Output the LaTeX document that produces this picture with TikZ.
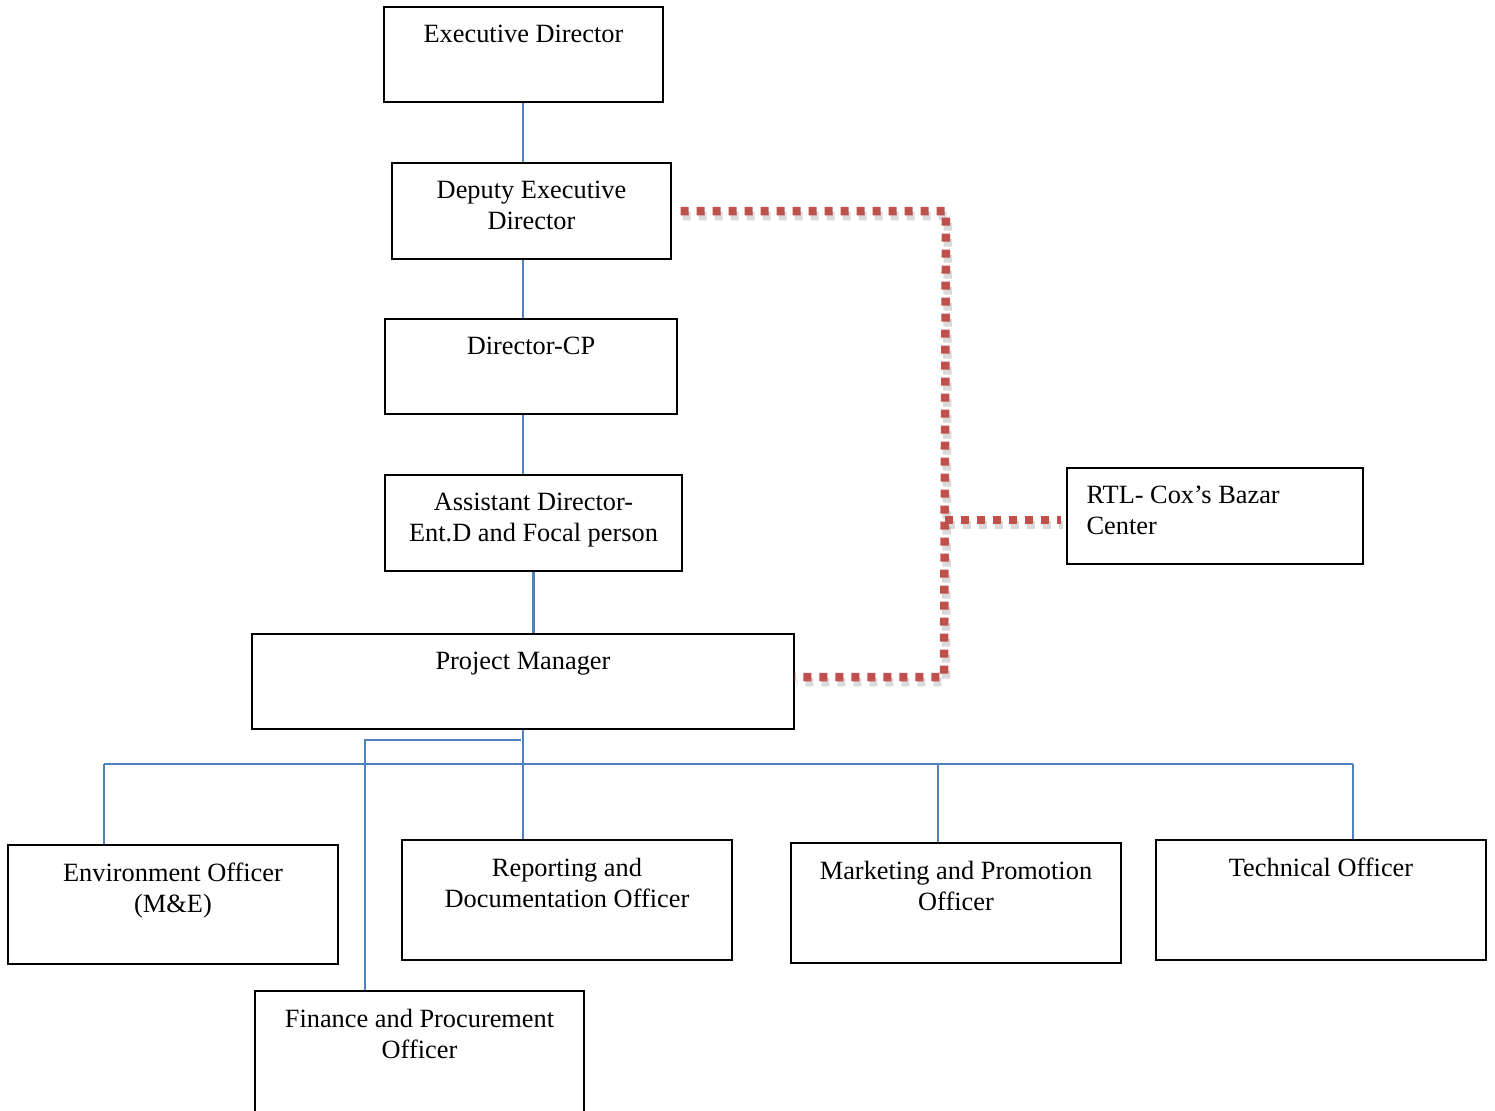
\documentclass[tikz,border=0pt]{standalone}
\usepackage{fontspec}
\setmainfont{Liberation Serif}
\usetikzlibrary{fit}
\definecolor{lineblue}{RGB}{79,129,189}
\definecolor{dotred}{RGB}{192,80,77}
\tikzset{
  box/.style={draw, line width=0.8pt, inner sep=0pt},
  lbl/.style={anchor=north, align=center, inner sep=0pt, yshift=-10.5pt,
    font=\fontsize{15}{17.6}\selectfont},
  lblleft/.style={lbl, anchor=north west, align=left, xshift=20*0.02cm},
  link/.style={draw=lineblue, line width=1.2pt},
  dotlink/.style={draw=dotred, line width=0.17cm, dash pattern=on 0.16cm off 0.16cm},
  dotshade/.style={dotlink, draw=gray, opacity=0.3,
    transform canvas={shift={(0.04cm,-0.1cm)}}}
}
\begin{document}
\begin{tikzpicture}[x=0.02cm,y=-0.02cm]
  \useasboundingbox (0,0) rectangle (1495,1110);
  \clip (0,0) rectangle (1495,1110);
  % boxes
  \node[box, fit={(384,7) (663,102)}, label={[lbl]north:{Executive Director}}] (ed) {};
  \node[box, fit={(392,163) (671,259)}, label={[lbl]north:{Deputy Executive\\Director}}] (dep) {};
  \node[box, fit={(385,319) (677,414)}, label={[lbl]north:{Director-CP}}] (dcp) {};
  \node[box, fit={(385,475) (682,571)}, label={[lbl]north:{Assistant Director-\\Ent.D and Focal person}}] (ad) {};
  \node[box, fit={(252,634) (794,729)}, label={[lbl]north:{Project Manager}}] (pm) {};
  \node[box, fit={(1067,468) (1363,564)}, label={[lblleft]north west:{RTL- Cox's Bazar\\Center}}] (rtl) {};
  \node[box, fit={(8,845) (338,964)}, label={[lbl]north:{Environment Officer\\(M\&E)}}] (env) {};
  \node[box, fit={(402,840) (732,960)}, label={[lbl]north:{Reporting and\\Documentation Officer}}] (rep) {};
  \node[box, fit={(791,843) (1121,963)}, label={[lbl]north:{Marketing and Promotion\\Officer}}] (mkt) {};
  \node[box, fit={(1156,840) (1486,960)}, label={[lbl]north:{Technical Officer}}] (tech) {};
  \node[box, fit={(255,991) (584,1130)}, label={[lbl]north:{Finance and Procurement\\Officer}}] (fin) {};
  % chain of command
  \coordinate (spine) at (523,0);
  \draw[link] (spine |- ed.south) -- (spine |- dep.north);
  \draw[link] (spine |- dep.south) -- (spine |- dcp.north);
  \draw[link] (spine |- dcp.south) -- (spine |- ad.north);
  \draw[link] (ad.south) -- (ad.south |- pm.north);
  \draw[link] (spine |- pm.south) -- (spine |- rep.north);
  % officers bus
  \coordinate (busL) at (104,764);
  \coordinate (busM) at (938,764);
  \coordinate (busR) at (1353,764);
  \draw[link] (busL) -- (busR);
  \draw[link] (busL) -- (busL |- env.north);
  \draw[link] (busM) -- (busM |- mkt.north);
  \draw[link] (busR) -- (busR |- tech.north);
  \coordinate (finT) at (521,740);
  \coordinate (finK) at (365,740);
  \draw[link] (finT) -- (finK) -- (finK |- fin.north);
  % dotted line to RTL
  \coordinate (trunkT) at (946,211);
  \coordinate (trunkM) at (945,520);
  \coordinate (trunkB) at (944,677);
  \foreach \s in {dotshade,dotlink}{
    \draw[\s] ([xshift=0.18cm]dep.east |- trunkT) -- (trunkT) -- (trunkB) -- (pm.east |- trunkB);
    \draw[\s] (trunkM) -- ([xshift=-0.1cm]trunkM -| rtl.west);
  }
\end{tikzpicture}
\end{document}
